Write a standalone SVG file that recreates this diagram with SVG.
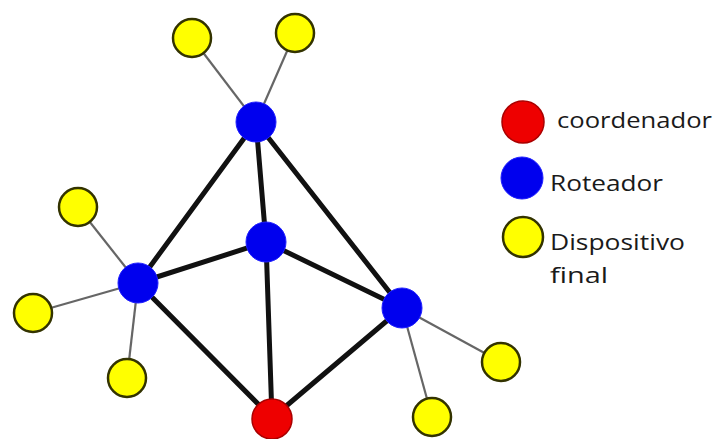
<svg xmlns="http://www.w3.org/2000/svg" width="716" height="439" viewBox="0 0 716 439">
<style>
.thick{stroke:#111;stroke-width:5;stroke-linecap:round}
.thin{stroke:#666;stroke-width:2.2}
.y{fill:#ffff00;stroke:#333300;stroke-width:2.5}
.b{fill:#0000ee;stroke:#2020ff;stroke-width:1}
.r{fill:#ee0000;stroke:#aa0000;stroke-width:1.5}
.lbl{font-family:"Open Sans","Noto Sans",sans-serif;font-size:22px;fill:#1a1a1a}
</style>
<rect width="716" height="439" fill="#ffffff"/>
<g id="connectors">
<line class="thin" x1="256" y1="122" x2="192" y2="38"/>
<line class="thin" x1="256" y1="122" x2="295" y2="33"/>
<line class="thin" x1="138" y1="283" x2="78" y2="207"/>
<line class="thin" x1="138" y1="283" x2="33" y2="313"/>
<line class="thin" x1="138" y1="283" x2="127" y2="378"/>
<line class="thin" x1="402" y1="308" x2="501" y2="362"/>
<line class="thin" x1="402" y1="308" x2="432" y2="417"/>
<line class="thick" x1="256" y1="122" x2="138" y2="283"/>
<line class="thick" x1="256" y1="122" x2="266" y2="242"/>
<line class="thick" x1="256" y1="122" x2="402" y2="308"/>
<line class="thick" x1="138" y1="283" x2="266" y2="242"/>
<line class="thick" x1="138" y1="283" x2="272" y2="418"/>
<line class="thick" x1="266" y1="242" x2="272" y2="418"/>
<line class="thick" x1="266" y1="242" x2="402" y2="308"/>
<line class="thick" x1="402" y1="308" x2="272" y2="418"/>
</g>
<g id="dev1"><circle class="y" cx="192" cy="38" r="19"/></g>
<g id="dev2"><circle class="y" cx="295" cy="33" r="19"/></g>
<g id="dev3"><circle class="y" cx="78" cy="207" r="19"/></g>
<g id="dev4"><circle class="y" cx="33" cy="313" r="19"/></g>
<g id="dev5"><circle class="y" cx="127" cy="378" r="19"/></g>
<g id="dev6"><circle class="y" cx="501" cy="362" r="19"/></g>
<g id="dev7"><circle class="y" cx="432" cy="417" r="19"/></g>
<g id="router-top"><circle class="b" cx="256" cy="122" r="20"/></g>
<g id="router-left"><circle class="b" cx="138" cy="283" r="20"/></g>
<g id="router-mid"><circle class="b" cx="266" cy="242" r="20"/></g>
<g id="router-right"><circle class="b" cx="402" cy="308" r="20"/></g>
<g id="coordinator"><circle class="r" cx="272" cy="419" r="20"/></g>
<g id="legend">
<circle class="r" cx="523" cy="122" r="21" stroke-width="2.5" stroke="#660000"/>
<text class="lbl" x="557" y="128" textLength="155" lengthAdjust="spacingAndGlyphs">coordenador</text>
<circle class="b" cx="522" cy="178" r="21"/>
<text class="lbl" x="550" y="191" textLength="113" lengthAdjust="spacingAndGlyphs">Roteador</text>
<circle class="y" cx="523" cy="237" r="20"/>
<text class="lbl" x="550" y="250" textLength="135" lengthAdjust="spacingAndGlyphs">Dispositivo</text>
<text class="lbl" x="550" y="283" textLength="58" lengthAdjust="spacingAndGlyphs">final</text>
</g>
</svg>
